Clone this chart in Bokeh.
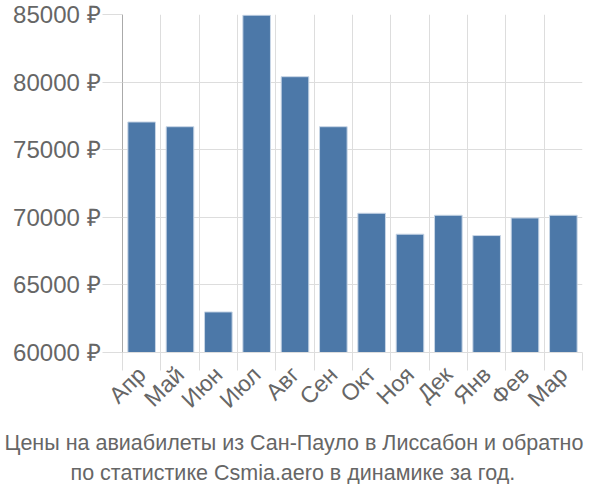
import math
from bokeh.plotting import figure
from bokeh.models import Range1d, FixedTicker, PrintfTickFormatter, Title
from bokeh.embed import file_html
from bokeh.resources import INLINE

months = ["Апр", "Май", "Июн", "Июл", "Авг", "Сен", "Окт", "Ноя", "Дек", "Янв", "Фев", "Мар"]
prices = [77050, 76700, 63000, 84950, 80400, 76700, 70300, 68750, 70150, 68650, 69950, 70150]
y_ticks = [60000, 65000, 70000, 75000, 80000, 85000]
title_lines = ["Цены на авиабилеты из Сан-Пауло в Лиссабон и обратно",
               "по статистике Csmia.aero в динамике за год."]

n = len(months)
centers = [i + 0.5 for i in range(n)]
bounds = list(range(n + 1))

FONT = "Liberation Sans"
GRAY = "#666666"
GRID = "#dddddd"
LEFT = 122

p = figure(width=584, height=484, output_backend="svg", toolbar_location=None,
           x_range=Range1d(0, n), y_range=Range1d(y_ticks[0], y_ticks[-1]),
           min_border_left=LEFT, min_border_top=14, min_border_right=2,
           min_border_bottom=128)
p.outline_line_color = None
p.background_fill_color = "white"

p.vbar(x=centers, top=prices, bottom=y_ticks[0], width=0.72,
       fill_color="#4c78a8", line_color="#c8d6e6", line_width=1)

# y axis
ya = p.yaxis[0]
ya.ticker = FixedTicker(ticks=y_ticks)
ya.formatter = PrintfTickFormatter(format="%d ₽")
ya.major_label_text_font = FONT
ya.major_label_text_font_size = "24px"
ya.major_label_text_color = GRAY
ya.major_tick_out = 20
ya.major_tick_in = 0
ya.major_tick_line_color = GRID
ya.minor_tick_line_color = None
ya.axis_line_color = "#aaaaaa"
ya.major_label_standoff = 2

# x axis
xa = p.xaxis[0]
xa.ticker = FixedTicker(ticks=centers, minor_ticks=bounds)
xa.major_label_overrides = {c: m for c, m in zip(centers, months)}
xa.major_label_orientation = math.pi / 4
xa.major_label_text_font = FONT
xa.major_label_text_font_size = "23px"
xa.major_label_text_color = GRAY
xa.major_tick_line_color = None
xa.minor_tick_out = 18
xa.minor_tick_in = 0
xa.minor_tick_line_color = GRID
xa.axis_line_color = GRID
xa.major_label_standoff = 0

p.xgrid.ticker = FixedTicker(ticks=bounds)
p.xgrid.grid_line_color = GRID
p.ygrid.ticker = FixedTicker(ticks=y_ticks)
p.ygrid.grid_line_color = GRID

# title below, shifted to be centred on the page
for line, left, so in zip(title_lines, [4, 70], [8, 0]):
    p.add_layout(Title(text=line, align="left", offset=left - LEFT, standoff=so,
                       text_font=FONT, text_font_size="21.5px", text_color=GRAY,
                       text_font_style="normal"), "below")

open("out.html", "w").write(file_html(p, INLINE))
